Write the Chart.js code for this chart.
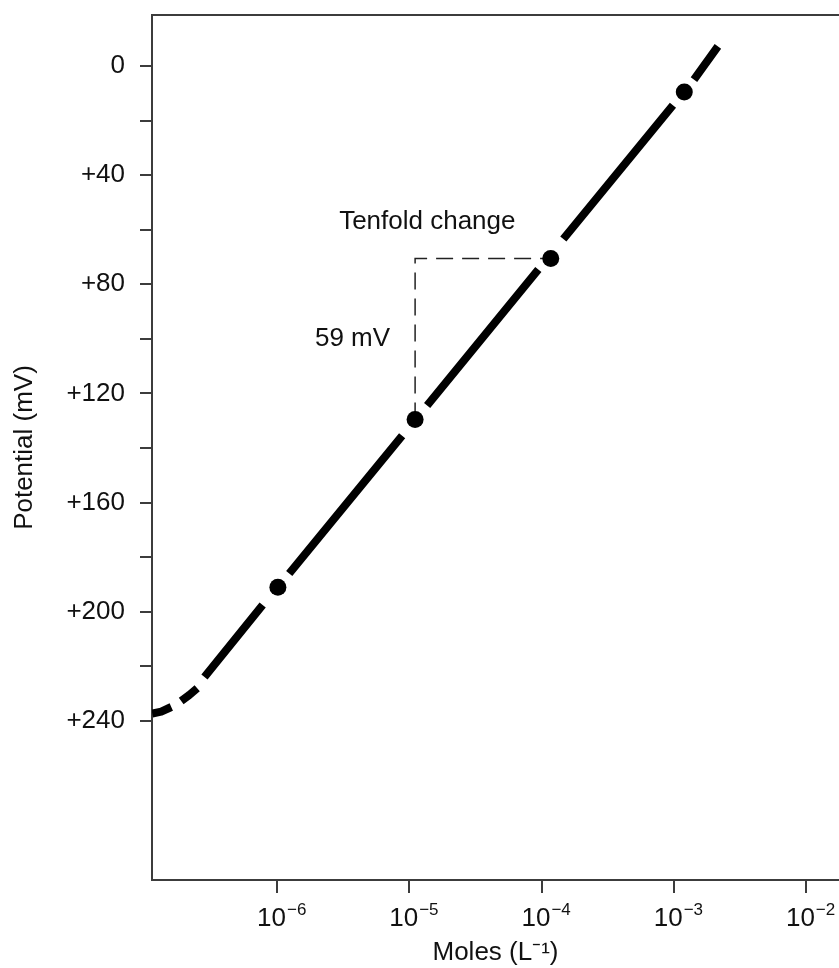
<!DOCTYPE html>
<html>
<head>
<meta charset="utf-8">
<script src="https://cdn.jsdelivr.net/npm/chart.js@4.4.1/dist/chart.umd.min.js"></script>
<style>
  html, body { margin: 0; padding: 0; background: #fff; overflow: hidden; }
  #wrap { position: relative; width: 839px; height: 968px; }
</style>
</head>
<body>
<div id="wrap"><canvas id="chart"></canvas></div>
<script>
// Electrode potential versus concentration (Nernstian response, ~59 mV per decade)

// Response curve, drawn in pieces; null marks a break in the line
const curveMoles = [1.135e-7, 1.327e-7, 1.581e-7, null,
                    1.879e-7, 2.163e-7, 2.483e-7, null,
                    2.818e-7, 7.762e-7, null,
                    1.233e-6, 8.81e-6, null,
                    1.361e-5, 9.44e-5, null,
                    1.459e-4, 9.84e-4, null,
                    1.419e-3, 2.153e-3];
const curveMV = [237.3, 236.6, 234.9, null,
                 232.7, 230.5, 228.0, null,
                 223.9, 197.5, null,
                 186.0, 135.5, null,
                 124.4, 74.6, null,
                 63.4, 14.4, null,
                 5.0, -7.2];

// Measured points on the line
const markerMoles = [1.012e-6, 1.104e-5, 1.172e-4, 1.199e-3];
const markerMV = [191, 129.5, 70.5, 9.5];

// Dashed step: one decade across, 59 mV up
const stepMoles = [1.104e-5, 1.104e-5, 1.172e-4];
const stepMV = [129.5, 70.5, 70.5];

// Axis ticks
const xTickValues = [1e-6, 1e-5, 1e-4, 1e-3, 1e-2];
const xTickBase = '10';
const xTickExponents = ['\u22126', '\u22125', '\u22124', '\u22123', '\u22122'];
const yTickValues = [0, 20, 40, 60, 80, 100, 120, 140, 160, 180, 200, 220, 240];
const yTickLabels = ['0', '', '+40', '', '+80', '', '+120', '', '+160', '', '+200', '', '+240'];

// Text notes next to the step
const noteTexts = ['Tenfold change', '59 mV'];
const noteMoles = [2.94e-6, 7.14e-6];
const noteMV = [57, 100];
const noteAlign = ['left', 'right'];

const FONT = "'Liberation Sans', Arial, Helvetica, sans-serif";
const SIZE = 26;
const AXIS = '#3c3c3c';
const INK = '#111';

const toPoints = (xs, ys) => xs.map((x, i) => ({
  x: x === null ? xs[i - 1] : x,
  y: ys[i]
}));

const frameAndText = {
  id: 'frameAndText',
  afterDraw(chart) {
    const { ctx, chartArea, scales } = chart;
    ctx.save();
    // top frame line
    ctx.strokeStyle = AXIS;
    ctx.lineWidth = 2;
    ctx.beginPath();
    ctx.moveTo(chartArea.left - 1, chartArea.top);
    ctx.lineTo(chartArea.right, chartArea.top);
    ctx.stroke();

    ctx.fillStyle = INK;

    // x tick labels as powers of ten
    const baseFont = SIZE + 'px ' + FONT;
    const expFont = '17px ' + FONT;
    const baseY = chartArea.bottom + 46;
    ctx.textBaseline = 'alphabetic';
    ctx.textAlign = 'left';
    xTickValues.forEach((v, i) => {
      const px = scales.x.getPixelForValue(v);
      ctx.font = baseFont;
      const w1 = ctx.measureText(xTickBase).width;
      ctx.font = expFont;
      const w2 = ctx.measureText(xTickExponents[i]).width;
      const x0 = px - (w1 + w2) / 2 + 4;
      ctx.font = baseFont;
      ctx.fillText(xTickBase, x0, baseY);
      ctx.font = expFont;
      ctx.fillText(xTickExponents[i], x0 + w1 + 1, baseY - 11);
    });

    // notes
    ctx.font = SIZE + 'px ' + FONT;
    ctx.textBaseline = 'middle';
    noteTexts.forEach((t, i) => {
      ctx.textAlign = noteAlign[i];
      ctx.fillText(t, scales.x.getPixelForValue(noteMoles[i]), scales.y.getPixelForValue(noteMV[i]));
    });
    ctx.restore();
  }
};

new Chart(document.getElementById('chart'), {
  type: 'line',
  data: {
    datasets: [
      {
        label: 'Points',
        data: toPoints(markerMoles, markerMV),
        showLine: false,
        pointRadius: 8.5,
        pointBackgroundColor: '#000',
        pointBorderWidth: 0,
        order: 0
      },
      {
        label: 'Response',
        data: toPoints(curveMoles, curveMV),
        borderColor: '#000',
        borderWidth: 8,
        borderCapStyle: 'butt',
        borderJoinStyle: 'round',
        pointRadius: 0,
        spanGaps: false,
        tension: 0,
        order: 1
      },
      {
        label: 'Step',
        data: toPoints(stepMoles, stepMV),
        borderColor: '#222',
        borderWidth: 1.5,
        borderDash: [17, 9],
        pointRadius: 0,
        tension: 0,
        order: 2
      }
    ]
  },
  options: {
    responsive: true,
    maintainAspectRatio: false,
    animation: false,
    devicePixelRatio: 1,
    layout: { autoPadding: false, padding: { top: 15, left: 0, right: 0, bottom: 0 } },
    plugins: { legend: { display: false }, tooltip: { enabled: false } },
    scales: {
      x: {
        type: 'logarithmic',
        position: 'bottom',
        min: 1.13e-7,
        max: 1.774e-2,
        afterBuildTicks: (s) => { s.ticks = xTickValues.map(v => ({ value: v })); },
        afterFit: (s) => {
          s.height = 88;
          s.paddingLeft = 0; s.paddingRight = 0;
        },
        ticks: { display: false, autoSkip: false, maxRotation: 0 },
        grid: {
          drawOnChartArea: false,
          drawTicks: true,
          tickLength: 13,
          tickColor: AXIS,
          lineWidth: 2
        },
        border: { display: true, color: AXIS, width: 2 },
        title: {
          display: true,
          text: 'Moles (L\u207B\u00B9)',
          color: INK,
          font: { family: FONT, size: SIZE, lineHeight: 1.2 },
          padding: { top: 0, bottom: 0 }
        }
      },
      y: {
        type: 'linear',
        position: 'left',
        reverse: true,
        min: -18.7,
        max: 298.3,
        afterBuildTicks: (s) => { s.ticks = yTickValues.map(v => ({ value: v })); },
        afterFit: (s) => {
          s.width = 152;
          s.paddingTop = 0; s.paddingBottom = 0;
        },
        ticks: {
          autoSkip: false,
          padding: 15,
          color: INK,
          font: { family: FONT, size: SIZE },
          callback: (v, i) => yTickLabels[i]
        },
        grid: {
          drawOnChartArea: false,
          drawTicks: true,
          tickLength: 12,
          tickColor: AXIS,
          lineWidth: 2
        },
        border: { display: true, color: AXIS, width: 2 },
        title: {
          display: true,
          text: 'Potential (mV)',
          color: INK,
          font: { family: FONT, size: SIZE, lineHeight: 1.2 },
          padding: { top: 9, bottom: 0 }
        }
      }
    }
  },
  plugins: [frameAndText]
});
</script>
</body>
</html>
